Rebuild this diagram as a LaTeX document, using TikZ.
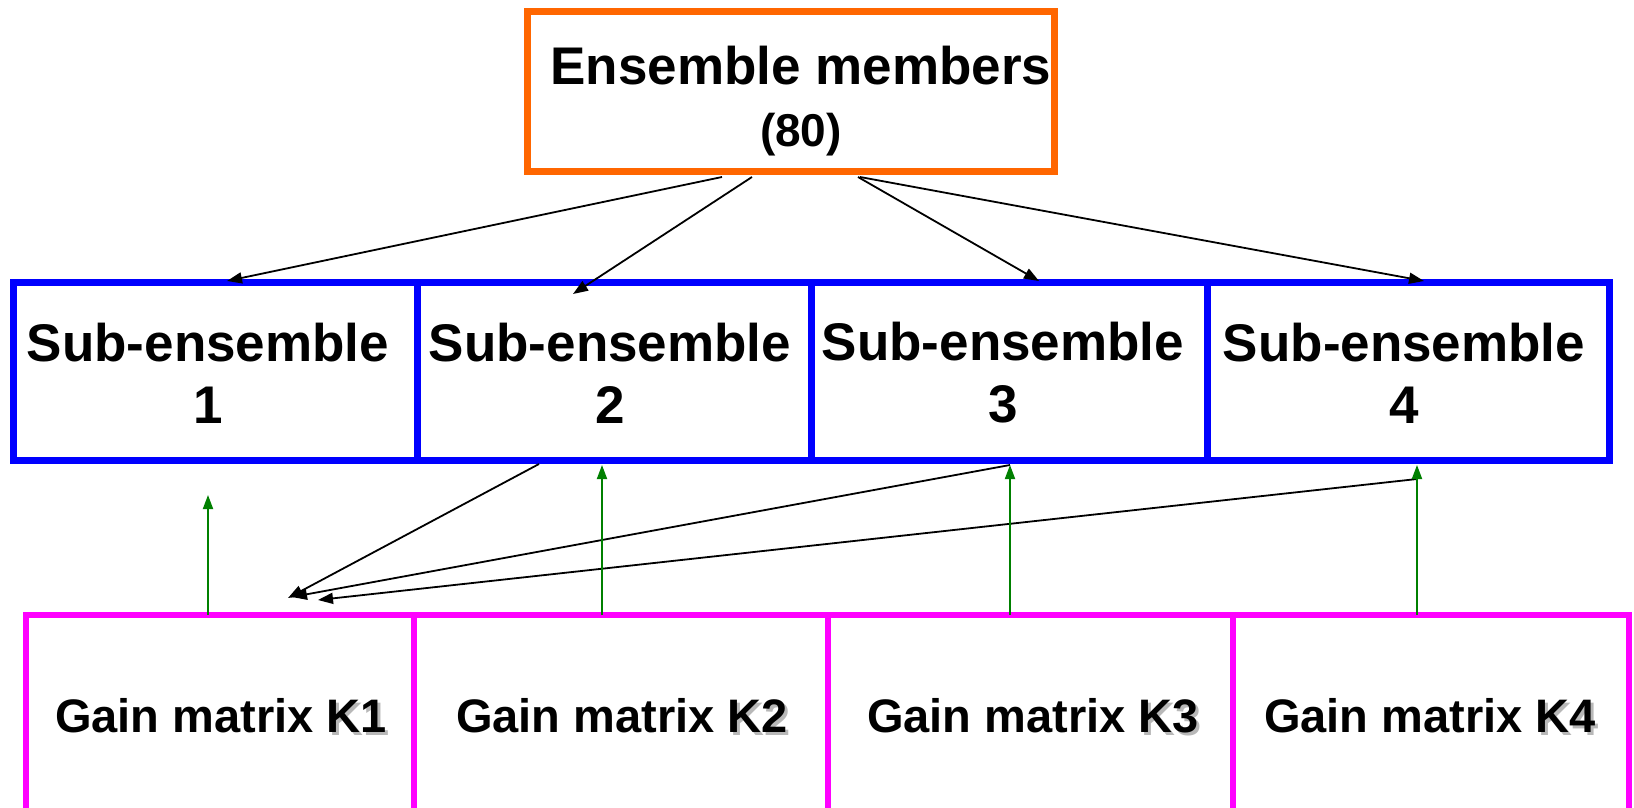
\documentclass[tikz,border=0pt]{standalone}
\usepackage{fontspec}
\setmainfont{Liberation Sans}
\usetikzlibrary{arrows.meta}
\definecolor{orangeb}{RGB}{255,102,0}
\definecolor{blueb}{RGB}{0,0,255}
\definecolor{magb}{RGB}{255,0,255}
\definecolor{greena}{RGB}{0,128,0}
\newcommand{\shk}[1]{\makebox[0pt][l]{\kern2.5pt\raisebox{-2.5pt}{\color{black!28}#1}}#1}
\begin{document}
\begin{tikzpicture}[x=1pt,y=-1pt,
  box/.style={draw, rectangle, inner sep=0pt},
  ensbox/.style={box, draw=orangeb, line width=7pt},
  subbox/.style={box, draw=blueb, line width=7pt, minimum height=178pt},
  gainbox/.style={box, draw=magb, line width=6pt, minimum height=225pt},
  bigtxt/.style={font=\bfseries\fontsize{53}{62}\selectfont, align=center, inner sep=0pt},
  gaintxt/.style={font=\bfseries\fontsize{47}{56}\selectfont, inner sep=0pt},
  blk/.style={draw=black, line width=1.8pt, -{Triangle[length=15pt,width=11pt]}},
  grn/.style={draw=greena, line width=1.8pt, -{Triangle[length=14pt,width=10pt]}}]
\useasboundingbox (0,0) rectangle (1634,808);
\fill[white] (0,0) rectangle (1634,808);
\clip (0,0) rectangle (1634,808);

% top box
\node[ensbox, minimum width=527pt, minimum height=160pt] (ens) at (791,91.5) {};
\node[bigtxt] (enstxt) at (801,101) {Ensemble members\\{\fontsize{46}{62}\selectfont (80)}};

% sub-ensembles
\node[subbox, minimum width=403.5pt] (sub1) at (215.25,371.5) {};
\node[subbox, minimum width=394pt] (sub2) at (614,371.5) {};
\node[subbox, minimum width=396pt] (sub3) at (1009,371.5) {};
\node[subbox, minimum width=402.5pt] (sub4) at (1408.25,371.5) {};
\node[bigtxt] (sub1t) at (208,373) {Sub-ensemble\\1};
\node[bigtxt] (sub2t) at (610,373) {Sub-ensemble\\2};
\node[bigtxt] (sub3t) at (1003,373) {Sub-ensemble\\3};
\node[bigtxt] (sub4t) at (1404,373) {Sub-ensemble\\4};

% gain matrices
\node[gainbox, minimum width=388pt] (gain1) at (220,727.5) {};
\node[gainbox, minimum width=414pt] (gain2) at (621,727.5) {};
\node[gainbox, minimum width=405pt] (gain3) at (1030.5,727.5) {};
\node[gainbox, minimum width=396pt] (gain4) at (1431,727.5) {};
\node[gaintxt] (gain1t) at (221,717) {Gain matrix \shk{K1}};
\node[gaintxt] (gain2t) at (622,717) {Gain matrix \shk{K2}};
\node[gaintxt] (gain3t) at (1033,717) {Gain matrix \shk{K3}};
\node[gaintxt] (gain4t) at (1430,717) {Gain matrix \shk{K4}};

% connector end points
\coordinate (e1s) at (722,177);  \coordinate (e1t) at (227,281);
\coordinate (e2s) at (752,177);  \coordinate (e2t) at (573,294);
\coordinate (e3s) at (858,177);  \coordinate (e3t) at (1039,281);
\coordinate (e4s) at (860,177);  \coordinate (e4t) at (1424,281);

\coordinate (k2s) at (539,464);  \coordinate (kt1) at (288,598);
\coordinate (k3s) at (1010,465); \coordinate (kt1b) at (292,597);
\coordinate (k4s) at (1417,479); \coordinate (kt2) at (318,600);

\coordinate (g1s) at (208,615);  \coordinate (g1t) at (208,495);
\coordinate (g2s) at (602,615);  \coordinate (g2t) at (602,465);
\coordinate (g3s) at (1010,615); \coordinate (g3t) at (1010,465);
\coordinate (g4s) at (1417,615); \coordinate (g4t) at (1417,465);

\draw[blk] (e1s) -- (e1t);
\draw[blk] (e2s) -- (e2t);
\draw[blk] (e3s) -- (e3t);
\draw[blk] (e4s) -- (e4t);

\draw[blk] (k2s) -- (kt1);
\draw[blk] (k3s) -- (kt1b);
\draw[blk] (k4s) -- (kt2);

\draw[grn] (g1s) -- (g1t);
\draw[grn] (g2s) -- (g2t);
\draw[grn] (g3s) -- (g3t);
\draw[grn] (g4s) -- (g4t);
\end{tikzpicture}
\end{document}
